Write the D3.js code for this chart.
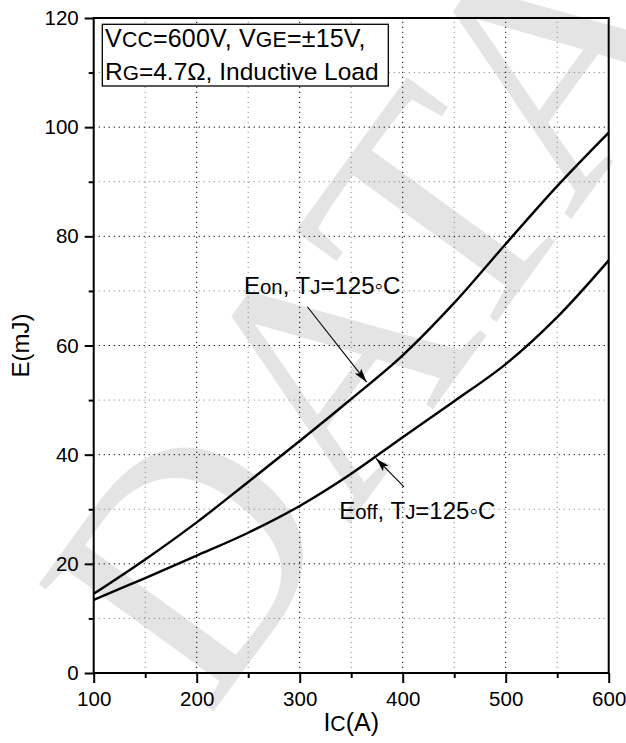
<!DOCTYPE html>
<html>
<head>
<meta charset="utf-8">
<script src="https://cdn.jsdelivr.net/npm/d3@7"></script>
<style>
  html, body { margin: 0; padding: 0; background: #fff; }
  svg { display: block; font-family: "Liberation Sans", Arial, sans-serif; }
</style>
</head>
<body>
<svg id="chart" width="626" height="743"></svg>
<script>
// Collector current (A) at which the switching energies are given
const collectorCurrent = [100, 150, 200, 250, 300, 350, 400, 450, 500, 550, 600];
// Turn-on energy Eon (mJ), Tj = 125 °C
const eonValues  = [14.5, 20.8, 27.6, 35.0, 42.5, 50.2, 58.2, 67.8, 78.6, 89.2, 99.0];
// Turn-off energy Eoff (mJ), Tj = 125 °C
const eoffValues = [13.4, 17.4, 21.5, 25.7, 30.6, 36.5, 43.2, 49.8, 56.6, 65.2, 75.6];

const xTickValues = [100, 200, 300, 400, 500, 600];
const yTickValues = [0, 20, 40, 60, 80, 100, 120];

const plot = { left: 93.7, right: 608.7, top: 18, bottom: 673 };

const svg = d3.select("#chart");

const x = d3.scaleLinear().domain([100, 600]).range([plot.left, plot.right]);
const y = d3.scaleLinear().domain([0, 120]).range([plot.bottom, plot.top]);

// faint background watermark
svg.append("text")
  .attr("transform", "translate(208,719) rotate(-54)")
  .attr("font-family", "'Liberation Serif', 'DejaVu Serif', serif")
  .attr("font-size", 330)
  .attr("fill", "#e4e4e4")
  .text("DATA");

// dotted grid: major lines black, minor lines grey
const gridX = d3.range(150, 600, 50);
const gridY = d3.range(10, 120, 10);
const grid = svg.append("g");
grid.selectAll("line.gx").data(gridX).join("line")
  .attr("x1", d => x(d)).attr("x2", d => x(d))
  .attr("y1", y(0)).attr("y2", y(120))
  .attr("stroke", d => d % 100 === 0 ? "#000" : "#8a8a8a")
  .attr("stroke-width", 1)
  .attr("stroke-dasharray", "1.2,3.8");
grid.selectAll("line.gy").data(gridY).join("line")
  .attr("y1", d => y(d)).attr("y2", d => y(d))
  .attr("x1", x(100)).attr("x2", x(600))
  .attr("stroke", d => d % 20 === 0 ? "#000" : "#8a8a8a")
  .attr("stroke-width", 1)
  .attr("stroke-dasharray", "1.2,3.8");

// axes
const xAxis = d3.axisBottom(x).tickValues(xTickValues).tickSize(10).tickPadding(8).tickFormat(d3.format("d"));
const xMinor = d3.axisBottom(x).tickValues(d3.range(150, 600, 100)).tickSize(5).tickFormat("");
const yAxis = d3.axisLeft(y).tickValues(yTickValues).tickSize(9).tickPadding(6).tickFormat(d3.format("d"));
const yMinor = d3.axisLeft(y).tickValues(d3.range(10, 120, 20)).tickSize(5).tickFormat("");

function styleAxis(g) {
  g.select(".domain").remove();
  g.selectAll(".tick line").attr("stroke", "#000").attr("stroke-width", 2);
  g.selectAll(".tick text").attr("fill", "#000")
    .attr("font-size", 20.5).attr("font-family", "'Liberation Sans', Arial, sans-serif");
}
svg.append("g").attr("transform", `translate(0,${plot.bottom})`).call(xAxis).call(styleAxis);
svg.append("g").attr("transform", `translate(0,${plot.bottom})`).call(xMinor).call(styleAxis);
svg.append("g").attr("transform", `translate(${plot.left},0)`).call(yAxis).call(styleAxis);
svg.append("g").attr("transform", `translate(${plot.left},0)`).call(yMinor).call(styleAxis);

// frame
svg.append("rect")
  .attr("x", plot.left).attr("y", plot.top)
  .attr("width", plot.right - plot.left).attr("height", plot.bottom - plot.top)
  .attr("fill", "none").attr("stroke", "#000").attr("stroke-width", 2);

// curves
const line = d3.line().x(d => x(d[0])).y(d => y(d[1])).curve(d3.curveCatmullRom.alpha(0.5));
const eonPts = collectorCurrent.map((c, i) => [c, eonValues[i]]);
const eoffPts = collectorCurrent.map((c, i) => [c, eoffValues[i]]);
[eonPts, eoffPts].forEach(pts => {
  svg.append("path").datum(pts)
    .attr("d", line)
    .attr("fill", "none")
    .attr("stroke", "#000")
    .attr("stroke-width", 2.4);
});

// arrowhead marker
svg.append("defs").append("marker")
  .attr("id", "arrow")
  .attr("viewBox", "0 0 14 8")
  .attr("refX", 14).attr("refY", 4)
  .attr("markerWidth", 14).attr("markerHeight", 8)
  .attr("markerUnits", "userSpaceOnUse")
  .attr("orient", "auto")
  .append("path").attr("d", "M0,0 L14,4 L0,8 L3,4 Z").attr("fill", "#000");

// small-caps-style sub-labels: smaller letters kept on the baseline
function richText(sel, parts, size) {
  parts.forEach(p => {
    sel.append("tspan")
      .attr("font-size", p.small ? size * 0.85 : size)
      .text(p.t);
  });
}

// curve annotations (anchors in data units)
const notes = [
  { label: [{t: "E"}, {t: "on", small: true}, {t: ", T"}, {t: "J", small: true}, {t: "=125"}, {t: "◦"}, {t: "C"}],
    at: [245.9, 69.5], from: [307.4, 67.1], to: [365.0, 53.3] },
  { label: [{t: "E"}, {t: "off", small: true}, {t: ", T"}, {t: "J", small: true}, {t: "=125"}, {t: "◦"}, {t: "C"}],
    at: [338.4, 28.3], from: [401.3, 34.1], to: [374.1, 39.3] }
];
notes.forEach(n => {
  const tx = svg.append("text")
    .attr("x", x(n.at[0])).attr("y", y(n.at[1]))
    .attr("fill", "#000");
  richText(tx, n.label, 24);
  svg.append("line")
    .attr("x1", x(n.from[0])).attr("y1", y(n.from[1]))
    .attr("x2", x(n.to[0])).attr("y2", y(n.to[1]))
    .attr("stroke", "#000").attr("stroke-width", 1.1)
    .attr("marker-end", "url(#arrow)");
});

// test-condition box
const cond = svg.append("g");
cond.append("rect")
  .attr("x", 102.3).attr("y", 24.3).attr("width", 286).attr("height", 61.7)
  .attr("fill", "#fff").attr("stroke", "#000").attr("stroke-width", 1.3);
const l1 = cond.append("text").attr("x", 105).attr("y", 46.7).attr("letter-spacing", 0.2);
richText(l1, [{t: "V"}, {t: "CC", small: true}, {t: "=600V, V"}, {t: "GE", small: true}, {t: "=±15V,"}], 25);
const l2 = cond.append("text").attr("x", 105).attr("y", 80);
richText(l2, [{t: "R"}, {t: "G", small: true}, {t: "=4.7Ω, Inductive Load"}], 24.5);

// axis titles
const xt = svg.append("text")
  .attr("x", (plot.left + plot.right) / 2).attr("y", 731)
  .attr("text-anchor", "middle");
richText(xt, [{t: "I"}, {t: "C", small: true}, {t: "(A)"}], 25);

svg.append("text")
  .attr("transform", `translate(29,${(plot.top + plot.bottom) / 2}) rotate(-90)`)
  .attr("text-anchor", "middle")
  .attr("font-size", 24)
  .text("E(mJ)");
</script>
</body>
</html>
